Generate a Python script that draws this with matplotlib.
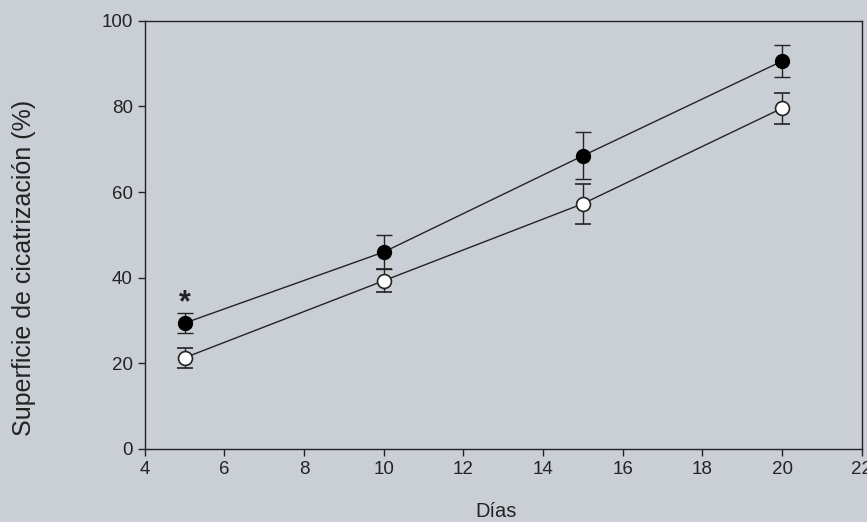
import matplotlib
matplotlib.use("Agg")
import matplotlib.pyplot as plt

plt.rcParams["font.family"] = ["Liberation Sans", "DejaVu Sans"]

# Wound-healing surface (%) over days, two groups
dias = [5, 10, 15, 20]
treated = [29.4, 46.0, 68.5, 90.6]
treated_err = [2.3, 4.0, 5.5, 3.8]
control = [21.3, 39.3, 57.3, 79.6]
control_err = [2.3, 2.7, 4.7, 3.6]

bg = "#cacfd6"
ink = "#232323"

fig = plt.figure(figsize=(8.67, 5.22), dpi=100, facecolor=bg)
ax = fig.add_axes([0.167, 0.140, 0.827, 0.820], facecolor=bg)

ax.errorbar(dias, treated, yerr=treated_err, color=ink, lw=1.0,
            marker="o", ms=10, mfc="black", mec="black",
            capsize=5.5, elinewidth=1.0, capthick=1.0)
ax.errorbar(dias, control, yerr=control_err, color=ink, lw=1.0,
            marker="o", ms=10, mfc="white", mec=ink, mew=1.2,
            capsize=5.5, elinewidth=1.0, capthick=1.0)
ax.text(5, 34, "*", ha="center", va="center", fontsize=22,
        fontweight="bold", color=ink)

ax.set_xlim(4, 22)
ax.set_ylim(0, 100)
ax.set_xticks(range(4, 23, 2))
ax.set_yticks(range(0, 101, 20))
ax.tick_params(colors=ink, labelsize=13.5, length=5, width=1.0)
for s in ax.spines.values():
    s.set_color(ink)
    s.set_linewidth(1.0)

ax.set_xlabel("Días", fontsize=14.5, color=ink)
ax.xaxis.set_label_coords(0.49, -0.125)
ax.set_ylabel("Superficie de cicatrización (%)", fontsize=18, color=ink)
ax.yaxis.set_label_coords(-0.152, 0.423)

fig.savefig("out.png", dpi=100, facecolor=bg)
